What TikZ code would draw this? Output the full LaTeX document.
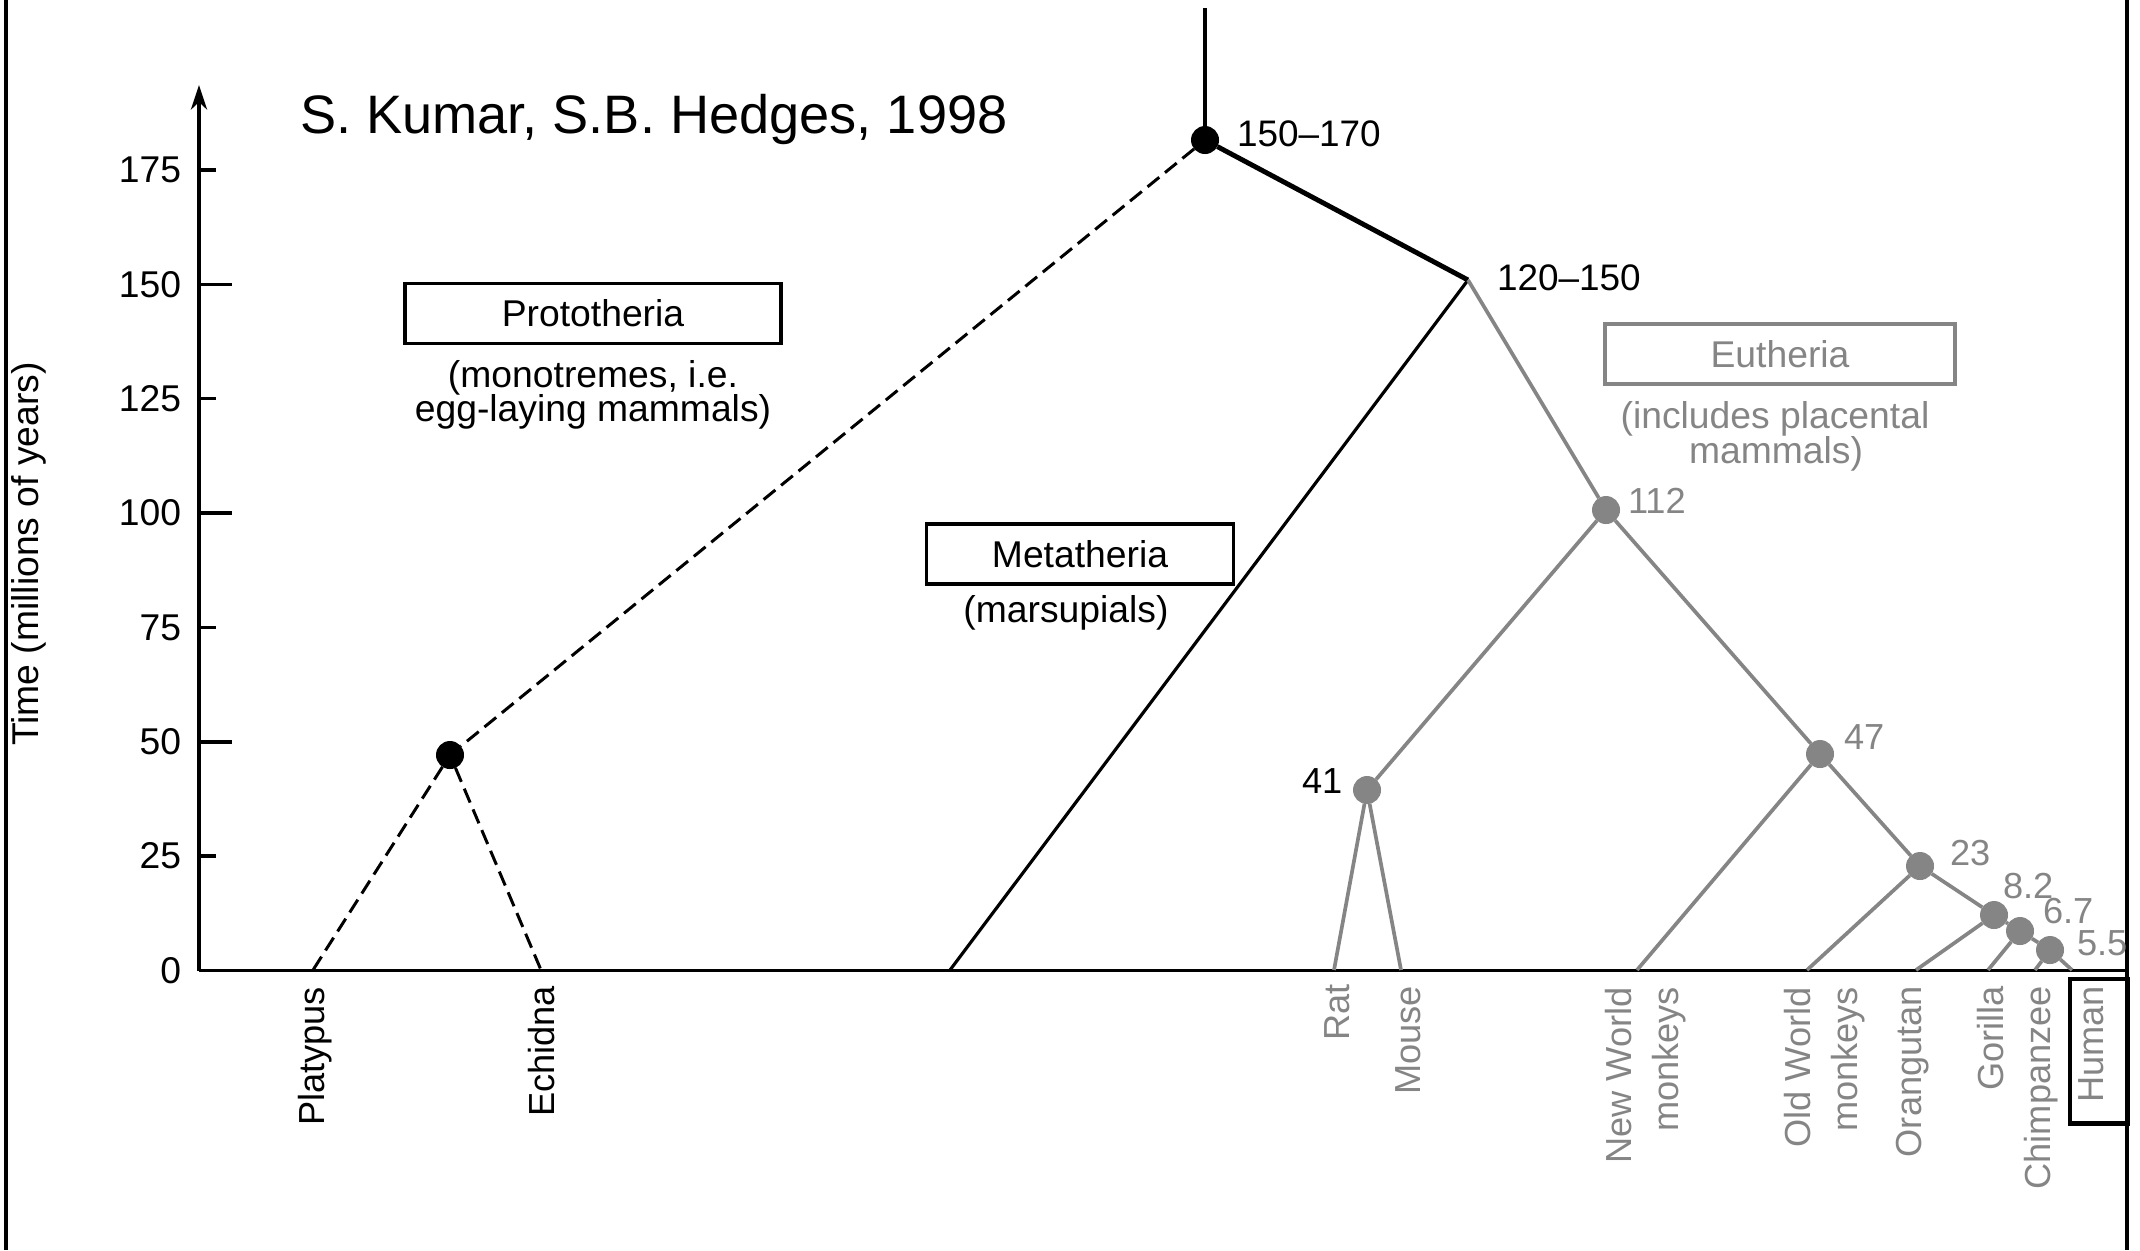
\documentclass[tikz,border=0pt]{standalone}
\usepackage{fontspec}
\setmainfont{Liberation Sans}
\usetikzlibrary{arrows.meta}

\definecolor{eugray}{gray}{0.52}

\begin{document}
\begin{tikzpicture}[x=0.01cm, y=-0.01cm,
  every node/.style={inner sep=0pt, outer sep=0pt},
  bodytxt/.style={font=\fontsize{10.6}{12.7}\selectfont},
  numlbl/.style={font=\fontsize{10.3}{12}\selectfont, anchor=base west},
  leaflbl/.style={font=\fontsize{10.3}{13.4}\selectfont, rotate=90, anchor=east, align=right},
  blackdot/.style={circle, fill=black, minimum size=0.28cm},
  graydot/.style={circle, fill=eugray, minimum size=0.28cm},
  axisline/.style={line width=1pt},
  dashedbranch/.style={line width=0.85pt, dash pattern=on 4.3pt off 2.1pt},
  metabranch/.style={line width=0.9pt},
  stembranch/.style={line width=1.4pt},
  eubranch/.style={line width=1.05pt, draw=eugray},
  cladebox/.style={draw, line width=1pt, minimum height=0.6cm, font=\fontsize{10.6}{12.7}\selectfont},
]
\useasboundingbox (0,0) rectangle (2140,1250);

% side rules
\coordinate (lt) at (6,0);
\coordinate (lb) at (6,1250);
\coordinate (rt) at (2127,0);
\coordinate (rb) at (2127,1250);
\draw[line width=1pt] (lt) -- (lb);
\draw[line width=1pt] (rt) -- (rb);

% time axis
\coordinate (origin) at (199,970.5);
\coordinate (axtop) at (199,85);
\coordinate (xend) at (2127,970.5);
\draw[axisline, -{Stealth[length=7pt, width=4.6pt, inset=2.2pt]}] (origin) -- (axtop);
\draw[line width=1.1pt] (origin) -- (xend);
\foreach \v/\len in {0/33, 25/17, 50/33, 75/17, 100/33, 125/17, 150/33, 175/17} {
  \coordinate (tk\v) at (199,{970.5-4.575*\v});
  \coordinate (tke\v) at ({199+\len},{970.5-4.575*\v});
  \draw[axisline] (tk\v) -- (tke\v);
  \node[bodytxt, anchor=east] (tl\v) at (181,{970.5-4.575*\v}) {\v};
}
\node[bodytxt, rotate=90] (ylab) at (29,554) {Time (millions of years)};

% title
\node[anchor=base west, font=\fontsize{15.4}{18}\selectfont] (title) at (300,133) {S. Kumar, S.B. Hedges, 1998};

% clade boxes and captions
\node[cladebox, minimum width=3.76cm] (protobox) at (593,313.5) {Prototheria};
\node[bodytxt, anchor=base] (protoa) at (593,387) {(monotremes, i.e.};
\node[bodytxt, anchor=base] (protob) at (593,421) {egg-laying mammals)};

\node[cladebox, minimum width=3.07cm] (metabox) at (1080,554) {Metatheria};
\node[bodytxt, anchor=base] (metaa) at (1066,622) {(marsupials)};

\node[cladebox, minimum width=3.5cm, draw=eugray, text=eugray] (eubox) at (1780,354) {Eutheria};
\node[bodytxt, anchor=base, text=eugray] (eua) at (1775,428) {(includes placental};
\node[bodytxt, anchor=base, text=eugray] (eub) at (1776,463) {mammals)};

% tree vertices
\coordinate (top) at (1205,8);
\node[blackdot] (root) at (1205,140) {};
\coordinate (n120) at (1468,280);
\node[blackdot] (proto) at (450,755) {};
\node[graydot] (n112) at (1606,510) {};
\node[graydot] (n41) at (1367,790) {};
\node[graydot] (n47) at (1820,754) {};
\node[graydot] (n23) at (1920,866) {};
\node[graydot] (n82) at (1994,915) {};
\node[graydot] (n67) at (2020,931) {};
\node[graydot] (n55) at (2050,950) {};

% leaf tips on the time axis
\coordinate (platypus) at (313,970);
\coordinate (echidna) at (541,970);
\coordinate (marsup) at (950,970);
\coordinate (rat) at (1334,970);
\coordinate (mouse) at (1401,970);
\coordinate (nwm) at (1637,970);
\coordinate (owm) at (1807,970);
\coordinate (orang) at (1916,970);
\coordinate (gorilla) at (1988,970);
\coordinate (chimp) at (2035,970);
\coordinate (human) at (2072,970);

% branches
\draw[axisline] (top) -- (root);
\draw[stembranch] (root) -- (n120);
\draw[dashedbranch] (root) -- (proto);
\draw[dashedbranch] (proto) -- (platypus);
\draw[dashedbranch] (proto) -- (echidna);
\draw[metabranch] (n120) -- (marsup);
\draw[eubranch] (n120) -- (n112);
\draw[eubranch] (n112) -- (n41);
\draw[eubranch] (n112) -- (n47);
\draw[eubranch] (n41) -- (rat);
\draw[eubranch] (n41) -- (mouse);
\draw[eubranch] (n47) -- (nwm);
\draw[eubranch] (n47) -- (n23);
\draw[eubranch] (n23) -- (owm);
\draw[eubranch] (n23) -- (n82);
\draw[eubranch] (n82) -- (orang);
\draw[eubranch] (n82) -- (n67);
\draw[eubranch] (n67) -- (gorilla);
\draw[eubranch] (n67) -- (n55);
\draw[eubranch] (n55) -- (chimp);
\draw[eubranch] (n55) -- (human);

% divergence times
\node[numlbl, font=\fontsize{10.5}{12}\selectfont] (t150) at (1237,146) {150–170};
\node[numlbl, font=\fontsize{10.5}{12}\selectfont] (t120) at (1497,290) {120–150};
\node[numlbl, text=eugray] (t112) at (1628,513) {112};
\node[numlbl] (t41) at (1302,793) {41};
\node[numlbl, text=eugray] (t47) at (1844,749) {47};
\node[numlbl, text=eugray] (t23) at (1950,865) {23};
\node[numlbl, text=eugray] (t82) at (2003,898) {8.2};
\node[numlbl, text=eugray] (t67) at (2043,923) {6.7};
\node[numlbl, text=eugray] (t55) at (2077,955) {5.5};

% species names
\node[leaflbl] (lplat) at (315,987) {Platypus};
\node[leaflbl] (lech) at (542,986) {Echidna};
\node[leaflbl, text=eugray] (lrat) at (1337,984) {Rat};
\node[leaflbl, text=eugray] (lmouse) at (1408,986) {Mouse};
\node[leaflbl, text=eugray] (lnwm) at (1646,987) {New World\\monkeys};
\node[leaflbl, text=eugray] (lowm) at (1825,987) {Old World\\monkeys};
\node[leaflbl, text=eugray] (lorang) at (1913,986) {Orangutan};
\node[leaflbl, text=eugray] (lgor) at (1991,986) {Gorilla};
\node[leaflbl, text=eugray] (lchimp) at (2041,986) {Chimpanzee};
\node[leaflbl, text=eugray] (lhuman) at (2091,986) {Human};
\node[draw, line width=1.4pt, minimum width=0.57cm, minimum height=1.44cm] (humanbox) at (2098.5,1051) {};
\end{tikzpicture}
\end{document}
